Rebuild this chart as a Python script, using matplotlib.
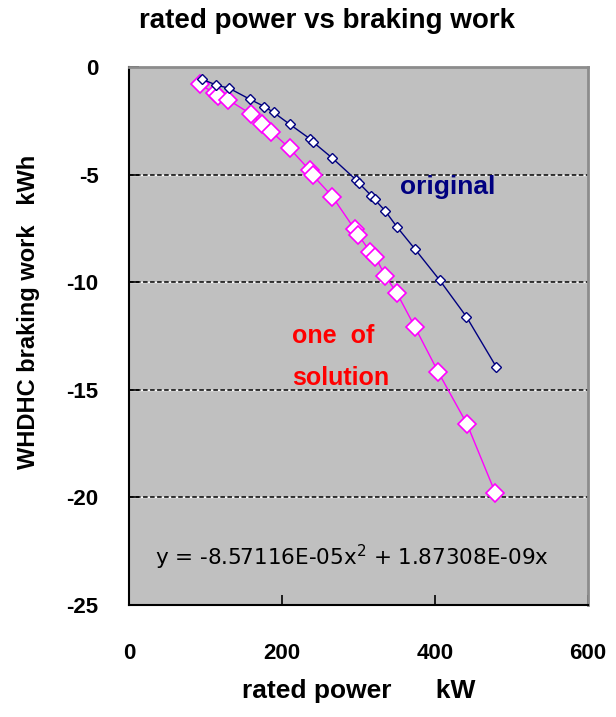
import matplotlib
matplotlib.use("Agg")
import matplotlib.pyplot as plt

# rated power (kW) and WHDHC braking work (kWh) - original
orig_power = [95, 114, 131, 158, 177, 189, 210, 237, 240, 266, 297, 301,
              317, 321, 335, 350, 374, 406, 441, 480]
orig_work = [-0.56, -0.84, -0.99, -1.50, -1.84, -2.11, -2.66, -3.35, -3.47,
             -4.24, -5.25, -5.41, -5.99, -6.15, -6.69, -7.42, -8.47, -9.90,
             -11.6, -13.93]

# one of solution
sol_power = [93, 112, 117, 130, 159, 174, 186, 210, 236, 240, 266, 295, 300,
             315, 322, 335, 350, 374, 404, 442, 479]
sol_work = [-0.81, -1.22, -1.35, -1.53, -2.18, -2.66, -3.00, -3.78, -4.79,
            -5.02, -6.03, -7.54, -7.81, -8.58, -8.81, -9.71, -10.49, -12.1,
            -14.16, -16.6, -19.8]

x_ticks = [0, 200, 400, 600]
y_ticks = [0, -5, -10, -15, -20, -25]
grid_levels = [-5, -10, -15, -20]

plt.rcParams['font.family'] = ['Liberation Sans', 'DejaVu Sans']

fig = plt.figure(figsize=(6.16, 7.17), dpi=100)
ax = fig.add_axes([0.2094, 0.1562, 0.7451, 0.7504])
ax.set_facecolor("#C0C0C0")

# dashed gridlines: black dashes over white
for g in grid_levels:
    ax.axhline(g, color="white", linewidth=1.0, zorder=1)
    ax.axhline(g, color="black", linestyle=(0, (3, 1.6)), linewidth=1.1, zorder=1)

ax.plot(sol_power, sol_work, color="#FF00FF", linewidth=1.0, marker="D",
        markersize=9.5, markerfacecolor="white", markeredgecolor="#FF00FF",
        markeredgewidth=1.2, zorder=3)
ax.plot(orig_power, orig_work, color="#000080", linewidth=1.0, marker="D",
        markersize=5.5, markerfacecolor="white", markeredgecolor="#000080",
        markeredgewidth=1.0, zorder=4)

ax.set_xlim(0, 600)
ax.set_ylim(-25, 0)
ax.set_xticks(x_ticks)
ax.set_yticks(y_ticks)
ax.set_xticklabels([str(v) for v in x_ticks], fontsize=16, fontweight="bold")
ax.set_yticklabels([str(v) for v in y_ticks], fontsize=16, fontweight="bold")
ax.tick_params(axis="x", direction="in", length=7, width=1.2, pad=27)
ax.tick_params(axis="y", direction="in", length=7, width=1.2, pad=22)

for side in ["left", "bottom"]:
    ax.spines[side].set_color("black")
    ax.spines[side].set_linewidth(1.5)
for side in ["top", "right"]:
    ax.spines[side].set_color("#8C8C8C")
    ax.spines[side].set_linewidth(2)

fig.text(0.531, 1 - 21 / 717, "rated power vs braking work", fontsize=20,
         fontweight="bold", ha="center", va="center")
ax.set_xlabel("rated power      kW", fontsize=19, fontweight="bold", labelpad=11)
ax.set_ylabel("WHDHC braking work   kWh", fontsize=17, fontweight="bold")
ax.yaxis.set_label_coords(-0.194, 0.545)

ax.text(354, -5.58, "original", color="#000080", fontsize=19,
        fontweight="bold", va="center")
ax.text(213, -12.5, "one  of", color="red", fontsize=18, fontweight="bold",
        va="center")
ax.text(213, -14.45, "solution", color="red", fontsize=18, fontweight="bold",
        va="center")
ax.text(34, -22.8, r"y = -8.57116E-05x$^2$ + 1.87308E-09x", color="black",
        fontsize=15.5, va="center", family="DejaVu Sans")

fig.savefig("out.png", dpi=100)
